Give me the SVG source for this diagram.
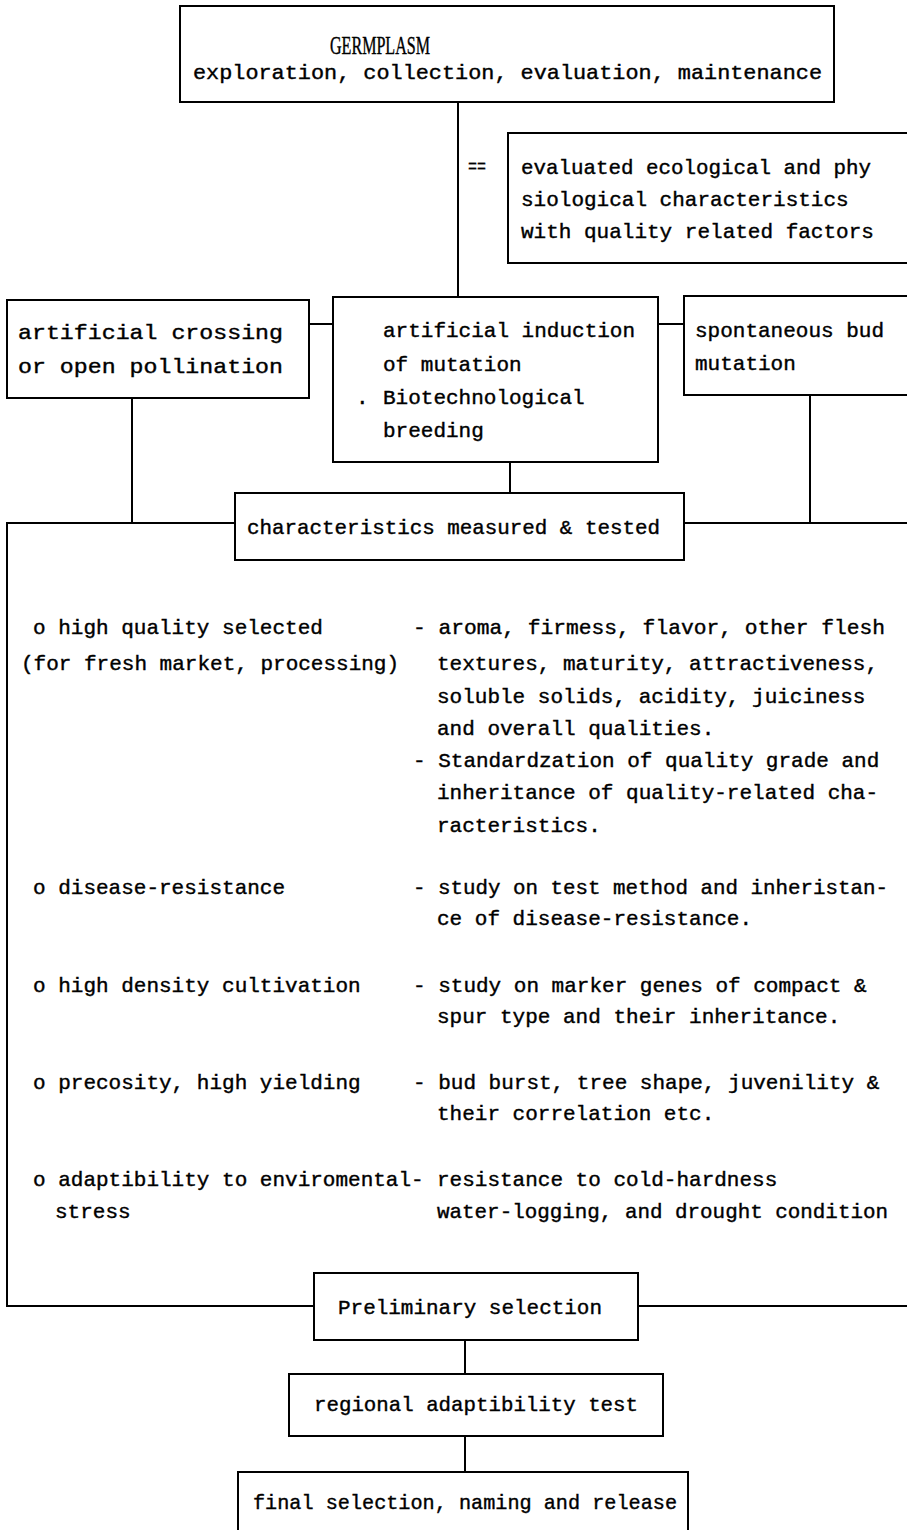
<svg xmlns="http://www.w3.org/2000/svg" width="907" height="1530" viewBox="0 0 907 1530">
<style>
.bx{fill:#fff;stroke:#000;stroke-width:2}
.ln{fill:none;stroke:#000;stroke-width:2}
text{font-family:"Liberation Mono","Courier New",monospace;font-size:21px;fill:#000;stroke:#000;stroke-width:0.4}
.cond{font-family:"Liberation Serif","Times New Roman",serif;font-size:26px}
</style>
<rect width="907" height="1530" fill="#fff"/>
<g id="connectors">
<line class="ln" x1="458" y1="100" x2="458" y2="297"/>
<line class="ln" x1="309" y1="324" x2="333" y2="324"/>
<line class="ln" x1="658" y1="324" x2="684" y2="324"/>
<line class="ln" x1="132" y1="398" x2="132" y2="523"/>
<line class="ln" x1="810" y1="395" x2="810" y2="523"/>
<line class="ln" x1="510" y1="462" x2="510" y2="493"/>
<polyline class="ln" points="235,523 7,523 7,1306 314,1306"/>
<line class="ln" x1="684" y1="523" x2="907" y2="523"/>
<line class="ln" x1="638" y1="1306" x2="907" y2="1306"/>
<line class="ln" x1="465" y1="1340" x2="465" y2="1374"/>
<line class="ln" x1="465" y1="1436" x2="465" y2="1472"/>
</g>
<g id="germplasm">
<rect class="bx" x="180" y="6" width="654" height="96"/>
<text class="cond" x="330" y="54" textLength="100" lengthAdjust="spacingAndGlyphs">GERMPLASM</text>
<text x="193" y="79" textLength="629" lengthAdjust="spacingAndGlyphs">exploration, collection, evaluation, maintenance</text>
</g>
<g id="equals">
<text x="468" y="173" textLength="18" lengthAdjust="spacingAndGlyphs">==</text>
</g>
<g id="evaluated">
<rect class="bx" x="508" y="133" width="410" height="130"/>
<text x="521" y="174" textLength="350" lengthAdjust="spacingAndGlyphs">evaluated ecological and phy</text>
<text x="521" y="206">siological characteristics</text>
<text x="521" y="238">with quality related factors</text>
</g>
<g id="crossing">
<rect class="bx" x="7" y="300" width="302" height="98"/>
<text x="18" y="339" textLength="265" lengthAdjust="spacingAndGlyphs">artificial crossing</text>
<text x="18" y="373" textLength="265" lengthAdjust="spacingAndGlyphs">or open pollination</text>
</g>
<g id="induction">
<rect class="bx" x="333" y="297" width="325" height="165"/>
<text x="383" y="337">artificial induction</text>
<text x="383" y="371">of mutation</text>
<text x="356" y="404">.</text>
<text x="383" y="404">Biotechnological</text>
<text x="383" y="437">breeding</text>
</g>
<g id="spontaneous">
<rect class="bx" x="684" y="296" width="240" height="99"/>
<text x="695" y="337">spontaneous bud</text>
<text x="695" y="370">mutation</text>
</g>
<g id="measured">
<rect class="bx" x="235" y="493" width="449" height="67"/>
<text x="247" y="534" textLength="413" lengthAdjust="spacingAndGlyphs">characteristics measured &amp; tested</text>
</g>
<g id="criteria">
<text x="33" y="634">o high quality selected</text>
<text x="21" y="670">(for fresh market, processing)</text>
<text x="413" y="634" textLength="472" lengthAdjust="spacingAndGlyphs">- aroma, firmess, flavor, other flesh</text>
<text x="437" y="670">textures, maturity, attractiveness,</text>
<text x="437" y="703">soluble solids, acidity, juiciness</text>
<text x="437" y="735">and overall qualities.</text>
<text x="413" y="767">- Standardzation of quality grade and</text>
<text x="437" y="799">inheritance of quality-related cha-</text>
<text x="437" y="832">racteristics.</text>
<text x="33" y="894">o disease-resistance</text>
<text x="413" y="894" textLength="475" lengthAdjust="spacingAndGlyphs">- study on test method and inheristan-</text>
<text x="437" y="925">ce of disease-resistance.</text>
<text x="33" y="992">o high density cultivation</text>
<text x="413" y="992">- study on marker genes of compact &amp;</text>
<text x="437" y="1023">spur type and their inheritance.</text>
<text x="33" y="1089">o precosity, high yielding</text>
<text x="413" y="1089">- bud burst, tree shape, juvenility &amp;</text>
<text x="437" y="1120">their correlation etc.</text>
<text x="33" y="1186">o adaptibility to enviromental-</text>
<text x="437" y="1186">resistance to cold-hardness</text>
<text x="55" y="1218">stress</text>
<text x="437" y="1218" textLength="451" lengthAdjust="spacingAndGlyphs">water-logging, and drought condition</text>
</g>
<g id="preliminary">
<rect class="bx" x="314" y="1273" width="324" height="67"/>
<text x="338" y="1314" textLength="264" lengthAdjust="spacingAndGlyphs">Preliminary selection</text>
</g>
<g id="regional">
<rect class="bx" x="289" y="1374" width="374" height="62"/>
<text x="314" y="1411" textLength="324" lengthAdjust="spacingAndGlyphs">regional adaptibility test</text>
</g>
<g id="final">
<rect class="bx" x="238" y="1472" width="450" height="70"/>
<text x="253" y="1509" textLength="424" lengthAdjust="spacingAndGlyphs">final selection, naming and release</text>
</g>
</svg>
